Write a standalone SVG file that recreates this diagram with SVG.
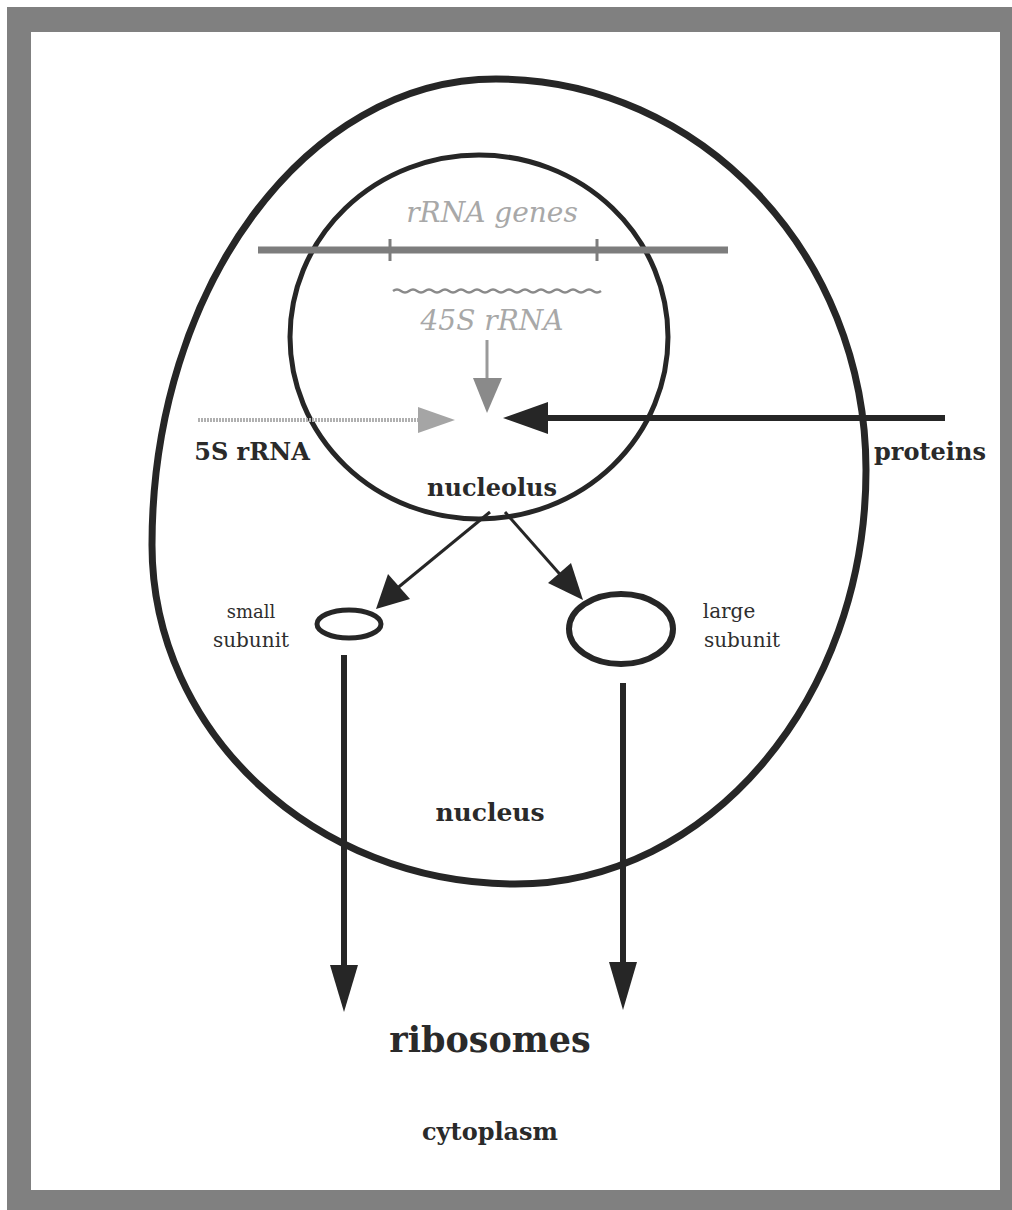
<svg xmlns="http://www.w3.org/2000/svg" width="1012" height="1210" viewBox="0 0 1012 1210">
<defs>
<style>
.lbl{font-family:"DejaVu Serif","Liberation Serif",serif;font-weight:bold;fill:#2a2a2a;text-anchor:middle}
.sm{font-family:"DejaVu Serif","Liberation Serif",serif;fill:#2e2e2e;text-anchor:middle}
.gr{font-family:"DejaVu Serif","Liberation Serif",serif;font-style:italic;fill:#a8a8a8;text-anchor:middle}
.blk{stroke:#262626;fill:none}
</style>
</defs>
<rect x="0" y="0" width="1012" height="1210" fill="#fff"/>
<path d="M7,7 H1012 V1210 H7 Z M31,32 V1190 H1000 V32 Z" fill="#808080" fill-rule="evenodd"/>
<g id="nucleus">
<path class="blk" stroke-width="7" d="M496,79 C700,79 866,254 866,470 C866,699 709,884 515,884 C315,884 152,732 152,545 C152,288 306,79 496,79 Z"/>
<text class="lbl" x="490" y="821" font-size="25">nucleus</text>
</g>
<g id="nucleolus">
<ellipse class="blk" stroke-width="5" cx="479" cy="337" rx="189" ry="182"/>
<text class="lbl" x="492" y="496" font-size="24">nucleolus</text>
</g>
<g id="rrna-genes">
<line x1="258" y1="250" x2="728" y2="250" stroke="#7d7d7d" stroke-width="7"/>
<line x1="390" y1="239" x2="390" y2="261" stroke="#7d7d7d" stroke-width="3"/>
<line x1="597" y1="239" x2="597" y2="261" stroke="#7d7d7d" stroke-width="3"/>
<text class="gr" x="492" y="222" font-size="28">rRNA genes</text>
</g>
<g id="rrna-45s">
<path d="M393,291 q4,-3 8,0 q4,3 8,0 q4,-3 8,0 q4,3 8,0 q4,-3 8,0 q4,3 8,0 q4,-3 8,0 q4,3 8,0 q4,-3 8,0 q4,3 8,0 q4,-3 8,0 q4,3 8,0 q4,-3 8,0 q4,3 8,0 q4,-3 8,0 q4,3 8,0 q4,-3 8,0 q4,3 8,0 q4,-3 8,0 q4,3 8,0 q4,-3 8,0 q4,3 8,0 q4,-3 8,0 q4,3 8,0 q4,-3 8,0 q4,3 8,0" fill="none" stroke="#8a8a8a" stroke-width="2.5"/>
<text class="gr" x="492" y="330" font-size="28">45S rRNA</text>
</g>
<g id="label-5s">
<text class="lbl" x="252" y="460" font-size="24">5S rRNA</text>
</g>
<g id="label-proteins">
<text class="lbl" x="930" y="460" font-size="24">proteins</text>
</g>
<g id="small-subunit">
<ellipse class="blk" stroke-width="5" cx="349" cy="624" rx="32" ry="14"/>
<text class="sm" x="251" y="618" font-size="18">small</text>
<text class="sm" x="251" y="647" font-size="20">subunit</text>
</g>
<g id="large-subunit">
<ellipse class="blk" stroke-width="6" cx="621" cy="629" rx="52" ry="35"/>
<text class="sm" x="729" y="618" font-size="20">large</text>
<text class="sm" x="742" y="647" font-size="20">subunit</text>
</g>
<g id="ribosomes">
<text class="lbl" x="490" y="1052" font-size="35">ribosomes</text>
</g>
<g id="cytoplasm">
<text class="lbl" x="490" y="1140" font-size="24">cytoplasm</text>
</g>
<g id="connectors">
<line x1="487" y1="340" x2="487" y2="385" stroke="#9a9a9a" stroke-width="3"/>
<path d="M473,378 L502,378 L487,413 Z" fill="#8a8a8a"/>
<line x1="198" y1="420" x2="425" y2="420" stroke="#b0b0b0" stroke-width="4" stroke-dasharray="2,1"/>
<path d="M418,407 L455,420 L418,433 Z" fill="#a5a5a5"/>
<line x1="945" y1="418" x2="540" y2="418" stroke="#262626" stroke-width="6"/>
<path d="M548,402 L503,418 L548,434 Z" fill="#262626"/>
<line x1="490" y1="512" x2="395" y2="590" stroke="#262626" stroke-width="3"/>
<path d="M376,609 L388,574 L410,599 Z" fill="#262626"/>
<line x1="505" y1="512" x2="565" y2="580" stroke="#262626" stroke-width="3"/>
<path d="M583,600 L548,583 L571,563 Z" fill="#262626"/>
<line x1="344" y1="655" x2="344" y2="975" stroke="#262626" stroke-width="6"/>
<path d="M330,965 L358,965 L344,1012 Z" fill="#262626"/>
<line x1="623" y1="683" x2="623" y2="972" stroke="#262626" stroke-width="6"/>
<path d="M609,962 L637,962 L623,1010 Z" fill="#262626"/>
</g>
</svg>
